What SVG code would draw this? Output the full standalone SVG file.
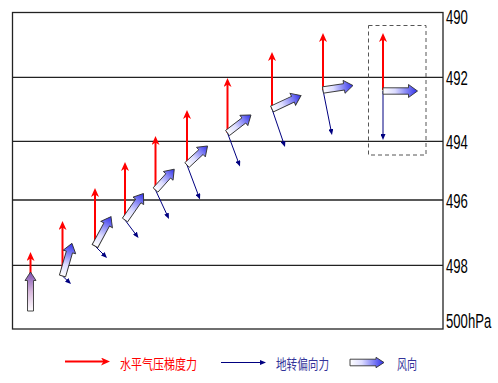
<svg xmlns="http://www.w3.org/2000/svg" width="498" height="383" viewBox="0 0 498 383">
<style>
.grid{stroke:#222;stroke-width:1.3;fill:none}
.red{stroke:#ff0000;stroke-width:2;fill:none;marker-end:url(#mr)}
.blue{stroke:#000080;stroke-width:1;fill:none;marker-end:url(#mb)}
.wind{fill:url(#wg);stroke:#333;stroke-width:0.9;stroke-linejoin:miter}
.lab{font-family:"Liberation Sans",Arial,sans-serif;font-size:20.5px;fill:#000}
.leg{font-family:"Noto Sans CJK SC","Noto Sans CJK JP",sans-serif;font-size:13.5px}
</style>
<defs>
<linearGradient id="wg" x1="0" y1="0" x2="1" y2="0">
<stop offset="0" stop-color="#ffffff"/>
<stop offset="0.35" stop-color="#dcdcff"/>
<stop offset="1" stop-color="#3030ea"/>
</linearGradient>
<linearGradient id="wg1" x1="0" y1="0" x2="1" y2="0">
<stop offset="0" stop-color="#ffffff"/>
<stop offset="0.5" stop-color="#d8b8dc"/>
<stop offset="1" stop-color="#7a4cb0"/>
</linearGradient>
<marker id="mr" viewBox="0 0 9 8" refX="4" refY="4" markerWidth="9" markerHeight="8" markerUnits="userSpaceOnUse" orient="auto">
<path d="M0,0 L9,4 L0,8 L2.5,4 Z" fill="#ff0000"/>
</marker>
<marker id="mb" viewBox="0 0 6 5" refX="2" refY="2.5" markerWidth="6" markerHeight="5" markerUnits="userSpaceOnUse" orient="auto">
<path d="M0,0 L6,2.5 L0,5 Z" fill="#000080"/>
</marker>
</defs>

<g id="frame">
<rect x="12.5" y="12.5" width="430.5" height="316.5" class="grid"/>
<line x1="12.5" y1="77.3" x2="443" y2="77.3" class="grid"/>
<line x1="12.5" y1="141.3" x2="443" y2="141.3" class="grid"/>
<line x1="12.5" y1="200" x2="443" y2="200" class="grid"/>
<line x1="12.5" y1="265.3" x2="443" y2="265.3" class="grid"/>
</g>

<g id="labels">
<text class="lab" transform="translate(446,24) scale(0.64,1)">490</text>
<text class="lab" transform="translate(446,85) scale(0.64,1)">492</text>
<text class="lab" transform="translate(446,149) scale(0.64,1)">494</text>
<text class="lab" transform="translate(446,208) scale(0.64,1)">496</text>
<text class="lab" transform="translate(446,273) scale(0.64,1)">498</text>
<text class="lab" transform="translate(446,328) scale(0.64,1)">500hPa</text>
</g>

<g id="connectors">
<g id="set1">
<line class="red" x1="30.5" y1="282" x2="30.5" y2="257"/>
<path transform="translate(30.5,311) rotate(-90)" d="M0,-3 H30.5 V-5.5 L39,0 L30.5,5.5 V3 H0 Z" style="fill:url(#wg1);stroke:#333;stroke-width:0.9"/>
</g>
<g id="set2">
<line class="red" x1="62.5" y1="276" x2="62.5" y2="226"/>
<line class="blue" x1="62.5" y1="276" x2="68.1" y2="281.3"/>
<path class="wind" transform="translate(62.5,276) rotate(-73.9)" d="M0,-3.2 H25 V-6.5 L34,0 L25,6.5 V3.2 H0 Z"/>
</g>
<g id="set3">
<line class="red" x1="95" y1="246" x2="95" y2="193"/>
<line class="blue" x1="95" y1="246" x2="104.2" y2="255.2"/>
<path class="wind" transform="translate(95,246) rotate(-61.5)" d="M0,-3.2 H24.5 V-6.5 L33.5,0 L24.5,6.5 V3.2 H0 Z"/>
</g>
<g id="set4">
<line class="red" x1="125" y1="220" x2="125" y2="167"/>
<line class="blue" x1="125" y1="220" x2="136.1" y2="234.8"/>
<path class="wind" transform="translate(125,220) rotate(-55.1)" d="M0,-3.2 H23.3 V-6.5 L32.3,0 L23.3,6.5 V3.2 H0 Z"/>
</g>
<g id="set5">
<line class="red" x1="155.5" y1="190" x2="155.5" y2="141"/>
<line class="blue" x1="155.5" y1="190" x2="167.3" y2="215.4"/>
<path class="wind" transform="translate(155.5,190) rotate(-48)" d="M0,-3.2 H19 V-6.5 L28,0 L19,6.5 V3.2 H0 Z"/>
</g>
<g id="set6">
<line class="red" x1="187" y1="165" x2="187" y2="115"/>
<line class="blue" x1="187" y1="165" x2="198.6" y2="195.8"/>
<path class="wind" transform="translate(187,165) rotate(-42.8)" d="M0,-3.2 H19 V-6.5 L28,0 L19,6.5 V3.2 H0 Z"/>
</g>
<g id="set7">
<line class="red" x1="227.5" y1="133" x2="227.5" y2="83"/>
<line class="blue" x1="227.5" y1="133" x2="238.6" y2="162.8"/>
<path class="wind" transform="translate(227.5,133) rotate(-37.5)" d="M0,-3.2 H20.6 V-6.5 L29.6,0 L20.6,6.5 V3.2 H0 Z"/>
</g>
<g id="set8">
<line class="red" x1="272" y1="109" x2="272" y2="57"/>
<line class="blue" x1="272" y1="109" x2="283.7" y2="143.2"/>
<path class="wind" transform="translate(272,109) rotate(-25)" d="M0,-3.2 H23 V-6.5 L32,0 L23,6.5 V3.2 H0 Z"/>
</g>
<g id="set9">
<line class="red" x1="323" y1="90" x2="323" y2="38"/>
<line class="blue" x1="323" y1="90" x2="331.2" y2="131.1"/>
<path class="wind" transform="translate(323,90) rotate(-8.5)" d="M0,-3.2 H21.3 V-6.5 L30.3,0 L21.3,6.5 V3.2 H0 Z"/>
</g>
<g id="set10">
<rect x="368.5" y="25.5" width="57.5" height="129.5" fill="none" stroke="#555" stroke-width="1" stroke-dasharray="4,3"/>
<line class="red" x1="383" y1="90" x2="383" y2="38"/>
<line class="blue" x1="383" y1="91" x2="383" y2="136"/>
<path class="wind" transform="translate(383,91)" d="M0,-3.2 H25.5 V-6.5 L34.5,0 L25.5,6.5 V3.2 H0 Z"/>
</g>
</g>

<g id="legend">
<line class="red" x1="65" y1="361.5" x2="105" y2="361.5"/>
<text class="leg" x="120" y="368.5" fill="#ff0000" textLength="77" lengthAdjust="spacingAndGlyphs">水平气压梯度力</text>
<line class="blue" x1="221" y1="362.5" x2="262" y2="362.5"/>
<text class="leg" x="276" y="368.5" fill="#333399" textLength="53" lengthAdjust="spacingAndGlyphs">地转偏向力</text>
<path class="wind" transform="translate(350,362.5)" d="M0,-3.3 H26 V-5.2 L34,0 L26,5.2 V3.3 H0 Z"/>
<text class="leg" x="397" y="368.5" fill="#333399" textLength="20" lengthAdjust="spacingAndGlyphs">风向</text>
</g>
</svg>
